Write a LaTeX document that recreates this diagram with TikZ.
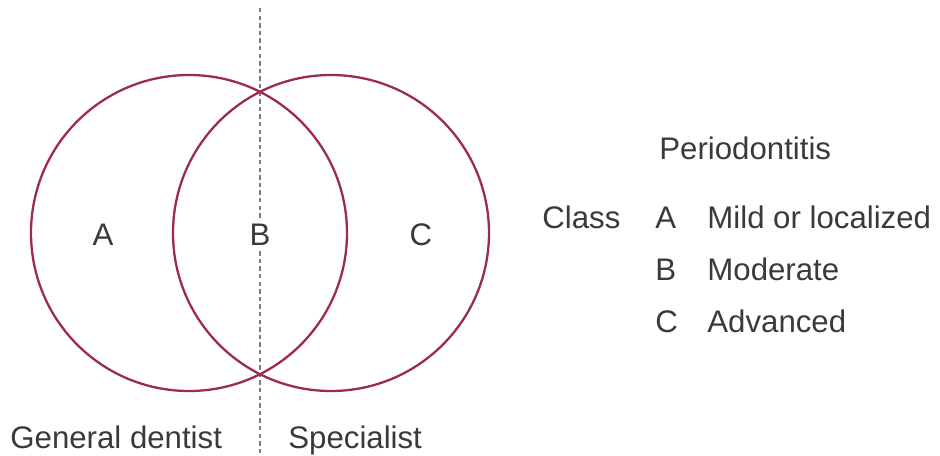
\documentclass[tikz,border=0pt]{standalone}
\usepackage{fontspec}
\setmainfont{Liberation Sans}
\usepackage{xcolor}
\definecolor{vennRing}{HTML}{9C2C4C}
\definecolor{vennInk}{HTML}{3A3A3A}
\definecolor{vennDash}{HTML}{7E7E7E}
\tikzset{
    venn/ring/.style={
        circle, draw=vennRing, line width=1.15pt,
        minimum size=158pt, inner sep=0pt
    },
    venn/divider/.style={
        draw=vennDash, line width=1.3pt, dash pattern=on 2.2pt off 1.6pt
    },
    venn/region/.style={
        font=\fontsize{15.6}{18}\selectfont, text=vennInk,
        fill=white, inner sep=1.5pt
    },
    venn/caption/.style={
        font=\fontsize{15.6}{18}\selectfont, text=vennInk, inner sep=0pt
    }
}
\begin{document}
\begin{tikzpicture}[x=0.5pt, y=-0.5pt]
    \useasboundingbox (0,0) rectangle (940,455);

    \coordinate (cut top) at (260,8);
    \coordinate (cut bottom) at (260,455);
    \draw[venn/divider] (cut top) -- (cut bottom);

    \node[venn/ring] (general) at (189,233) {};
    \node[venn/ring] (specialist) at (331,233) {};

    \node[venn/region] (regionA) at (103,235) {A};
    \node[venn/region] (regionB) at (260,235) {B};
    \node[venn/region] (regionC) at (421,235) {C};

    \node[venn/caption, anchor=base west] (dentist) at (10,448) {General dentist};
    \node[venn/caption, anchor=base west] (expert) at (288,448) {Specialist};

    % legend
    \node[venn/caption, anchor=base west] (title) at (659,159) {Periodontitis};
    \node[venn/caption, anchor=base west] (class) at (542,228) {Class};
    \node[venn/caption, anchor=base west] (keyA) at (655,228) {A};
    \node[venn/caption, anchor=base west] (keyB) at (655,280) {B};
    \node[venn/caption, anchor=base west] (keyC) at (655,332) {C};
    \node[venn/caption, anchor=base west] (mild) at (707,228) {Mild or localized};
    \node[venn/caption, anchor=base west] (moderate) at (707,280) {Moderate};
    \node[venn/caption, anchor=base west] (advanced) at (707,332) {Advanced};
\end{tikzpicture}
\end{document}
